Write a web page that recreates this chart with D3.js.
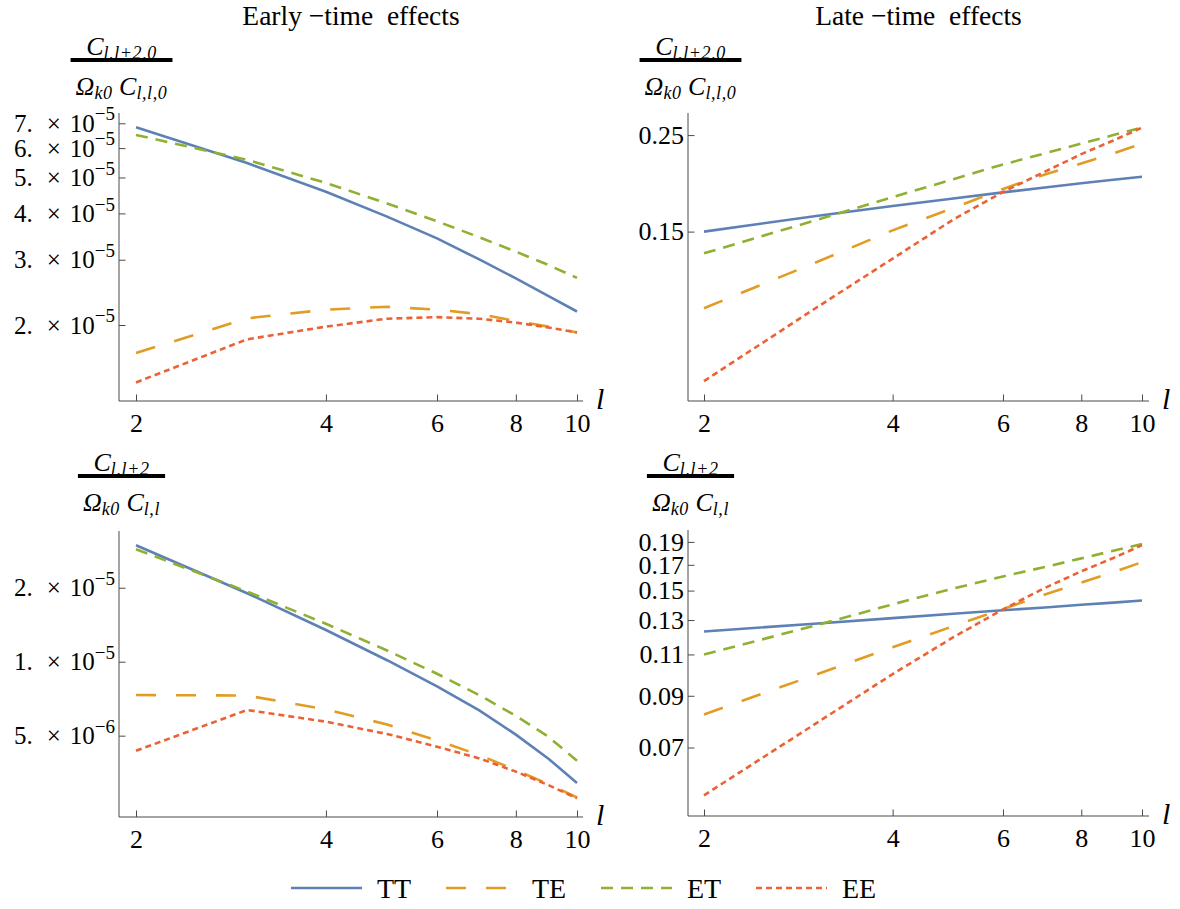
<!DOCTYPE html>
<html>
<head>
<meta charset="utf-8">
<script src="https://cdn.jsdelivr.net/npm/d3@7"></script>
<style>
  body { margin: 0; background: #fff; }
  text { font-family: "Liberation Serif", "Times New Roman", serif; fill: #000; }
</style>
</head>
<body>
<div id="chart"></div>
<script>
const width = 1180, height = 909;

const ells = [2, 3, 4, 5, 6, 7, 8, 9, 10];
const seriesNames = ["TT", "TE", "ET", "EE"];

// early-time, C_{l,l+2,0} / (Omega_k0 C_{l,l,0})
const earlyTopTT = [6.83e-5, 5.467e-5, 4.574e-5, 3.921e-5, 3.426e-5, 3.005e-5, 2.672e-5, 2.397e-5, 2.175e-5];
const earlyTopTE = [1.68e-5, 2.085e-5, 2.20e-5, 2.24e-5, 2.20e-5, 2.14e-5, 2.05e-5, 1.98e-5, 1.91e-5];
const earlyTopET = [6.51e-5, 5.58e-5, 4.833e-5, 4.256e-5, 3.808e-5, 3.45e-5, 3.155e-5, 2.905e-5, 2.68e-5];
const earlyTopEE = [1.40e-5, 1.83e-5, 1.98e-5, 2.08e-5, 2.10e-5, 2.08e-5, 2.03e-5, 1.97e-5, 1.91e-5];

// late-time, C_{l,l+2,0} / (Omega_k0 C_{l,l,0})
const lateTopTT = [0.150, 0.1627, 0.1718, 0.1788, 0.1846, 0.1895, 0.1937, 0.1974, 0.2005];
const lateTopTE = [0.100, 0.127, 0.151, 0.170, 0.188, 0.203, 0.215, 0.227, 0.239];
const lateTopET = [0.1337, 0.159, 0.180, 0.198, 0.214, 0.227, 0.239, 0.250, 0.260];
const lateTopEE = [0.068, 0.0996, 0.130, 0.160, 0.185, 0.206, 0.226, 0.243, 0.260];

// early-time, C_{l,l+2} / (Omega_k0 C_{l,l})
const earlyBotTT = [2.98e-5, 1.90e-5, 1.346e-5, 1.014e-5, 7.93e-6, 6.34e-6, 5.05e-6, 4.04e-6, 3.21e-6];
const earlyBotTE = [7.32e-6, 7.28e-6, 6.40e-6, 5.55e-6, 4.78e-6, 4.17e-6, 3.62e-6, 3.18e-6, 2.80e-6];
const earlyBotET = [2.87e-5, 1.93e-5, 1.427e-5, 1.111e-5, 8.93e-6, 7.31e-6, 6.02e-6, 4.96e-6, 3.95e-6];
const earlyBotEE = [4.34e-6, 6.36e-6, 5.70e-6, 5.08e-6, 4.51e-6, 4.04e-6, 3.57e-6, 3.15e-6, 2.78e-6];

// late-time, C_{l,l+2} / (Omega_k0 C_{l,l})
const lateBotTT = [0.123, 0.1277, 0.1312, 0.134, 0.1363, 0.1382, 0.140, 0.1415, 0.1429];
const lateBotTE = [0.0822, 0.0995, 0.1139, 0.1262, 0.1372, 0.1471, 0.156, 0.1641, 0.1722];
const lateBotET = [0.110, 0.1264, 0.1403, 0.1515, 0.1607, 0.1682, 0.1754, 0.182, 0.188];
const lateBotEE = [0.0555, 0.0783, 0.100, 0.1196, 0.1369, 0.152, 0.1647, 0.1757, 0.187];

// ticks
const xMajor = [2, 4, 6, 8, 10];
const xMinor = [2.5, 3, 3.5, 4.5, 5, 5.5, 6.5, 7, 7.5, 8.5, 9, 9.5];
const earlyTopMajor = [2e-5, 3e-5, 4e-5, 5e-5, 6e-5, 7e-5];
const earlyTopMinor = [1.4e-5, 1.6e-5, 1.8e-5, 2.2e-5, 2.4e-5, 2.6e-5, 2.8e-5, 3.2e-5, 3.4e-5, 3.6e-5, 3.8e-5,
  4.2e-5, 4.4e-5, 4.6e-5, 4.8e-5, 5.2e-5, 5.4e-5, 5.6e-5, 5.8e-5, 6.2e-5, 6.4e-5, 6.6e-5, 6.8e-5, 7.2e-5, 7.4e-5];
const lateTopMajor = [0.15, 0.25];
const lateTopMinor = [0.1, 0.2];
const earlyBotMajor = [5e-6, 1e-5, 2e-5];
const earlyBotMinor = [3e-6, 4e-6, 6e-6, 7e-6, 8e-6, 9e-6, 3e-5];
const lateBotMajor = [0.07, 0.09, 0.11, 0.13, 0.15, 0.17, 0.19];
const lateBotMinor = [0.06, 0.08, 0.10, 0.12, 0.14, 0.16, 0.18, 0.20];

const titles = ["Early \u2212time  effects", "Late \u2212time  effects"];
const fracTop = {num: [["C", 0], ["l,l+2,0", 1]], den: [["\u03A9", 0], ["k0", 1], [" C", 0], ["l,l,0", 1]]};
const fracBot = {num: [["C", 0], ["l,l+2", 1]], den: [["\u03A9", 0], ["k0", 1], [" C", 0], ["l,l", 1]]};

const colors = ["#5E81B5", "#E19C24", "#8FB032", "#EB6235"];
const dashes = [null, "20,20", "12,8", "6,4"];

const panels = [
  {left: 119, right: 583, x0: 136, x1: 577, bottom: 401, top: 113, yDomain: [1.2476e-5, 7.462e-5],
   series: [earlyTopTT, earlyTopTE, earlyTopET, earlyTopEE], major: earlyTopMajor, minor: earlyTopMinor,
   sci: true, frac: fracTop, numY: 55, barY: 58, denY: 95},
  {left: 688, right: 1149, x0: 704, x1: 1142, bottom: 401, top: 113, yDomain: [0.0612, 0.281],
   series: [lateTopTT, lateTopTE, lateTopET, lateTopEE], major: lateTopMajor, minor: lateTopMinor,
   sci: false, frac: fracTop, numY: 55, barY: 58, denY: 95},
  {left: 119, right: 583, x0: 136, x1: 577, bottom: 817, top: 531, yDomain: [2.333e-6, 3.404e-5],
   series: [earlyBotTT, earlyBotTE, earlyBotET, earlyBotEE], major: earlyBotMajor, minor: earlyBotMinor,
   sci: true, frac: fracBot, numY: 471, barY: 474, denY: 511},
  {left: 688, right: 1149, x0: 704, x1: 1142, bottom: 816, top: 530, yDomain: [0.0502, 0.2013],
   series: [lateBotTT, lateBotTE, lateBotET, lateBotEE], major: lateBotMajor, minor: lateBotMinor,
   sci: false, frac: fracBot, numY: 471, barY: 474, denY: 511}
];

const axisColor = "#4a4a4a";

const svg = d3.select("#chart").append("svg")
  .attr("width", width)
  .attr("height", height)
  .style("background", "#fff");

// column titles
svg.selectAll(".title")
  .data(titles)
  .enter().append("text")
  .attr("class", "title")
  .attr("x", (d, i) => (panels[i].left + panels[i].right) / 2)
  .attr("y", 25)
  .attr("text-anchor", "middle")
  .attr("font-size", 27.5)
  .style("white-space", "pre")
  .text(d => d);

function sciLabel(text, v) {
  const e = Math.floor(Math.log10(v) + 1e-9);
  const m = Math.round(v / Math.pow(10, e));
  text.text(null);
  text.append("tspan").text(m + ".");
  text.append("tspan").attr("dx", 14).text("\u00D7");
  text.append("tspan").attr("dx", 9).text("10");
  text.append("tspan").attr("font-size", 19).attr("dy", "-0.6em").text("\u2212" + Math.abs(e));
}

function drawFraction(p) {
  const cx = p.left + 2.5;
  const g = svg.append("g");
  const addPart = (y, parts) => {
    const t = g.append("text")
      .attr("x", cx).attr("y", y)
      .attr("text-anchor", "middle")
      .attr("font-style", "italic")
      .style("white-space", "pre");
    parts.forEach(([s, sub], i) => {
      t.append("tspan")
        .attr("font-size", sub ? 18 : 26)
        .attr("dy", sub ? 4 : (i > 0 ? -4 : 0))
        .attr("letter-spacing", sub ? 0.6 : 0)
        .text(s);
    });
    return t;
  };
  addPart(p.numY, p.frac.num);
  const den = addPart(p.denY, p.frac.den);
  const bb = den.node().getBBox();
  g.append("rect")
    .attr("x", bb.x - 5)
    .attr("y", p.barY)
    .attr("width", bb.width + 10)
    .attr("height", 4)
    .attr("fill", "#000");
}

function drawPanel(p) {
  const x = d3.scaleLog().domain([2, 10]).range([p.x0, p.x1]);
  const y = d3.scaleLog().domain(p.yDomain).range([p.bottom, p.top]);
  const g = svg.append("g");

  // x axis, ticks pointing inward
  const gx = g.append("g").attr("transform", "translate(0," + p.bottom + ")");
  gx.call(d3.axisBottom(x).tickValues(xMinor).tickSize(-3.5).tickSizeOuter(0).tickFormat(""));
  gx.call(d3.axisBottom(x).tickValues(xMajor).tickSize(-6.5).tickSizeOuter(0).tickPadding(13).tickFormat(d3.format("d")));
  gx.selectAll(".domain").remove();
  gx.attr("font-family", null).attr("font-size", 26);
  gx.selectAll("line").attr("stroke", axisColor);
  gx.append("line").attr("x1", p.left).attr("x2", p.right).attr("stroke", axisColor);

  // y axis
  const gy = g.append("g").attr("transform", "translate(" + p.left + ",0)");
  gy.call(d3.axisLeft(y).tickValues(p.minor).tickSize(-3.5).tickSizeOuter(0).tickFormat(""));
  gy.call(d3.axisLeft(y).tickValues(p.major).tickSize(-6.5).tickSizeOuter(0).tickPadding(4)
    .tickFormat(d => p.sci ? "" : d3.format(".2f")(d)));
  gy.selectAll(".domain").remove();
  gy.attr("font-family", null).attr("font-size", p.sci ? 25 : 26);
  gy.selectAll("line").attr("stroke", axisColor);
  if (p.sci) {
    gy.selectAll(".tick text").each(function (d) { if (p.major.includes(d)) sciLabel(d3.select(this), d); });
  }
  gy.append("line").attr("y1", p.bottom).attr("y2", p.top).attr("stroke", axisColor);

  // axis variable
  g.append("text")
    .attr("x", p.right + 13)
    .attr("y", p.bottom + 8)
    .attr("font-style", "italic")
    .attr("font-size", 30)
    .text("l");

  // curves
  const line = d3.line().x(d => x(d[0])).y(d => y(d[1]));
  g.selectAll(".curve")
    .data(p.series)
    .enter().append("path")
    .attr("class", "curve")
    .attr("d", s => line(s.map((v, i) => [ells[i], v])))
    .attr("fill", "none")
    .attr("stroke", (s, i) => colors[i])
    .attr("stroke-width", 2.6)
    .attr("stroke-dasharray", (s, i) => dashes[i]);

  drawFraction(p);
}

panels.forEach(drawPanel);

// legend
const legend = svg.append("g").attr("transform", "translate(291,888)");
const items = legend.selectAll(".item")
  .data(seriesNames)
  .enter().append("g")
  .attr("class", "item")
  .attr("transform", (d, i) => "translate(" + i * 155 + ",0)");
items.append("line")
  .attr("x1", 0).attr("x2", 71)
  .attr("stroke", (d, i) => colors[i])
  .attr("stroke-width", 2.6)
  .attr("stroke-dasharray", (d, i) => dashes[i]);
items.append("text")
  .attr("x", 86)
  .attr("y", 10)
  .attr("font-size", 28)
  .text(d => d);
</script>
</body>
</html>
